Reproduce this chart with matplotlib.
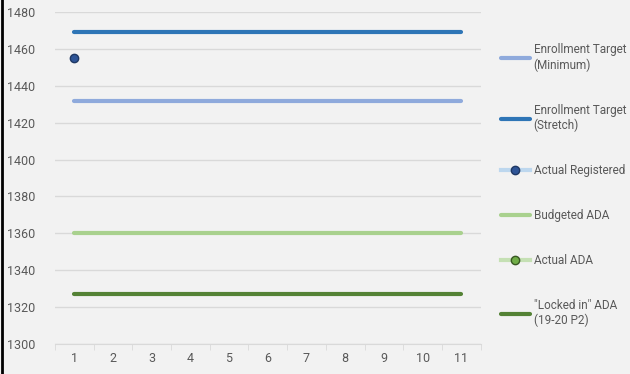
import matplotlib.pyplot as plt
import numpy as np

plt.rcParams['font.family'] = ['Roboto', 'DejaVu Sans']

months = np.arange(1, 12)
target_min = [1432] * 11
target_stretch = [1469] * 11
actual_registered = [1455]
budgeted_ada = [1360] * 11
actual_ada = []
locked_ada = [1327] * 11

bg = '#f2f2f2'
fig = plt.figure(figsize=(6.3, 3.74), dpi=100, facecolor=bg)
ax = fig.add_axes([0.087, 0.08, 0.676, 0.888], facecolor=bg)

ax.plot(months, target_min, color='#8faadc', lw=3, solid_capstyle='round',
        label='Enrollment Target\n(Minimum)')
ax.plot(months, target_stretch, color='#2e75b6', lw=3, solid_capstyle='round',
        label='Enrollment Target\n(Stretch)')
ax.plot(months[:len(actual_registered)], actual_registered, color='#bdd7ee', lw=3,
        marker='o', ms=6, mfc='#2f5597', mec='#1f3864', mew=1,
        label='Actual Registered')
ax.plot(months, budgeted_ada, color='#a9d18e', lw=3, solid_capstyle='round',
        label='Budgeted ADA')
ax.plot(months[:len(actual_ada)], actual_ada, color='#c5e0b4', lw=3,
        marker='o', ms=6, mfc='#70ad47', mec='#385723', mew=1,
        label='Actual ADA')
ax.plot(months, locked_ada, color='#548235', lw=3, solid_capstyle='round',
        label='"Locked in" ADA\n(19-20 P2)')

ax.set_xlim(0.5, 11.5)
ax.set_ylim(1300, 1480)
ax.set_yticks(np.arange(1300, 1481, 20))
ax.set_xticks(months)
ax.set_xticks(np.arange(0.5, 11.6, 1), minor=True)
ax.grid(axis='y', color='#d9d9d9', lw=1)
ax.set_axisbelow(True)
for s in ['top', 'right', 'left']:
    ax.spines[s].set_visible(False)
ax.spines['bottom'].set_color('#d9d9d9')
ax.tick_params(axis='y', length=0, labelsize=9, labelcolor='#595959', pad=14)
ax.tick_params(axis='x', which='major', length=0, labelsize=9, labelcolor='#595959', pad=6)
ax.tick_params(axis='x', which='minor', length=4, color='#d9d9d9')

fig.legend(loc='center left', bbox_to_anchor=(0.787, 0.505), frameon=False,
           fontsize=8.5, labelcolor='#595959', handlelength=2.5,
           handletextpad=0.3, labelspacing=2.7, borderaxespad=0)

# left border line
fig.add_artist(plt.Line2D([0.003, 0.003], [0, 1], color='black', lw=2,
                          transform=fig.transFigure))

plt.savefig('out.png', dpi=100, facecolor=bg)
